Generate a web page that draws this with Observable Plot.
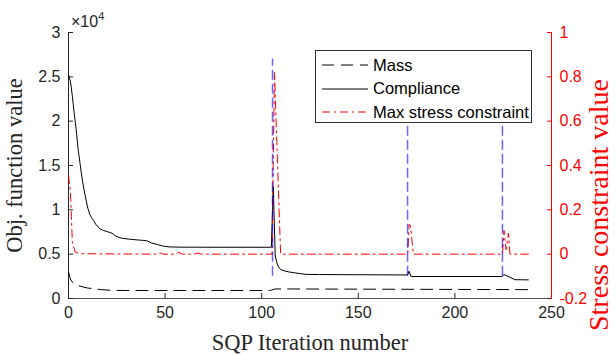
<!DOCTYPE html>
<html><head><meta charset="utf-8">
<script src="https://cdn.jsdelivr.net/npm/d3@7"></script>
<script src="https://cdn.jsdelivr.net/npm/@observablehq/plot@0.6"></script>
<style>
body{margin:0;background:#fff}
#wrap{position:relative;width:616px;height:354px;overflow:hidden;font-family:"Liberation Sans",Arial,sans-serif}
#wrap svg [aria-label$="axis label"]{font-family:"Liberation Serif","Times New Roman",serif;font-size:22.5px}
#legend{position:absolute;left:315px;top:50px;width:215px;height:71px;border:1px solid #333;background:#fff;font-size:16.5px;color:#000}
#legend .row{position:absolute;left:0;height:20px;display:flex;align-items:center}
#legend svg{width:46px;height:10px;margin-left:6px;margin-right:5px}
#exp{position:absolute;left:71px;top:11px;font-size:16px;color:#262626}
#exp sup{font-size:11px;position:relative;top:-1px}
#rlabel{position:absolute;left:599px;top:205px;writing-mode:vertical-rl;transform:translate(-50%,-50%) rotate(180deg);white-space:nowrap;font-family:"Liberation Serif","Times New Roman",serif;font-size:28px;line-height:0.8;color:red}
</style></head>
<body><div id="wrap"></div>
<script>
// ---- data ----
const complianceX = [0,1,2,3,4,5,6,7,8,9,10,11,12,13,14,16,18,20,22,23,24,26,28,31,35,39,41,43,46,49,52,58,80,105,106,107,108,109,110,112,114,117,120,123,130,140,150,160,170,175.5,176.3,177.3,200,224.5,225.3,227.7,231,238];
const complianceY = [25200,24500,22800,20800,19000,16800,15200,13600,12300,11200,10200,9500,9100,8800,8400,7900,7680,7550,7400,7300,7100,6900,6780,6700,6620,6550,6480,6250,6100,5900,5820,5790,5780,5780,12600,4800,3900,3450,3250,3100,3000,2900,2800,2720,2700,2690,2680,2670,2660,2650,3080,2480,2480,2480,2700,2480,2120,2100];
const massX = [0,1,2,3,4,6,8,10,13,17,22,30,104,105,107,238];
const massY = [3000,2200,1850,1650,1550,1400,1270,1180,1100,1000,920,900,900,950,1080,1000];
const stressX = [0,1,1.5,2,3.5,6,45,47.6,49,55,57,59,65,66.8,69,105.4,106.6,109.8,175.6,176.3,177,178.5,224.6,225.4,226.5,227.7,228.5,238];
const stressY = [0.355,0.28,0.17,0.05,0.01,0.002,0,0.005,0,0,0.008,0,0,0.005,0,0,0.82,0,0,0.135,0.13,0,0,0.107,0.02,0.095,0,0];
const restartX = [105.6, 175.5, 224.6];
const restartRange = [-0.1, 0.88];            // in stress units
const xTicks = [0,50,100,150,200,250];
const leftTicks = [0,5000,10000,15000,20000,25000,30000];
const rightTicks = [-0.2,0,0.2,0.4,0.6,0.8,1];
const leftDomain = [0, 30000];
const rightDomain = [-0.2, 1];
const rightLabel = "Stress constraint value";

// map right-axis values onto the left scale
const toL = r => (r - rightDomain[0]) / (rightDomain[1] - rightDomain[0]) * (leftDomain[1] - leftDomain[0]) + leftDomain[0];
const fromL = v => (v - leftDomain[0]) / (leftDomain[1] - leftDomain[0]) * (rightDomain[1] - rightDomain[0]) + rightDomain[0];

const compliance = complianceX.map((x, i) => ({x, y: complianceY[i]}));
const mass = massX.map((x, i) => ({x, y: massY[i]}));
const stress = stressX.map((x, i) => ({x, y: toL(stressY[i])}));

const chart = Plot.plot({
  width: 616, height: 354,
  marginLeft: 68, marginRight: 65, marginTop: 32, marginBottom: 56,
  style: {fontFamily: '"Liberation Sans", Arial, sans-serif', fontSize: "16px", background: "#fff"},
  x: {domain: [0, 250]},
  y: {domain: leftDomain},
  marks: [
    Plot.axisX(xTicks, {tickSize: -5, tickPadding: 13, color: "#262626", fontSize: 16, label: "SQP Iteration number", labelAnchor: "center", labelArrow: "none", labelOffset: 51}),
    Plot.axisY(leftTicks, {anchor: "left", tickSize: -5, tickPadding: 13, color: "#262626", fontSize: 16, tickFormat: d => String(d / 1e4), label: "Obj. function value", labelAnchor: "center", labelArrow: "none", labelOffset: 62}),
    Plot.axisY(rightTicks.map(toL), {anchor: "right", tickSize: -5, tickPadding: 13, color: "red", fontSize: 16, tickFormat: d => String(+fromL(d).toFixed(1)), label: null}),
    Plot.ruleY([leftDomain[0]], {stroke: "#262626", strokeOpacity: 0.8}),
    Plot.ruleX([0], {stroke: "#262626"}),
    Plot.ruleX([250], {stroke: "red"}),
    Plot.line(mass, {x: "x", y: "y", stroke: "black", strokeWidth: 1, strokeDasharray: "12,7"}),
    Plot.line(compliance, {x: "x", y: "y", stroke: "black", strokeWidth: 1}),
    Plot.line(stress, {x: "x", y: "y", stroke: "red", strokeWidth: 1, strokeDasharray: "8,4,2,4"}),
    Plot.ruleX(restartX, {y1: toL(restartRange[0]), y2: toL(restartRange[1]), stroke: "blue", strokeOpacity: 0.6, strokeWidth: 1.5, strokeDasharray: "10,4"})
  ]
});
const wrap = document.getElementById("wrap");
wrap.appendChild(chart);

const exp = document.createElement("div");
exp.id = "exp";
exp.innerHTML = "×10<sup>4</sup>";
wrap.appendChild(exp);

const rl = document.createElement("div");
rl.id = "rlabel";
rl.textContent = rightLabel;
wrap.appendChild(rl);

const legendItems = [
  {label: "Mass", stroke: "black", dash: "12,7"},
  {label: "Compliance", stroke: "black", dash: null},
  {label: "Max stress constraint", stroke: "red", dash: "8,4,2,4"}
];
const legend = document.createElement("div");
legend.id = "legend";
legendItems.forEach((it, i) => {
  const row = document.createElement("div");
  row.className = "row";
  row.style.top = (4 + i * 23.5) + "px";
  row.innerHTML = `<svg viewBox="0 0 46 10"><line x1="0" x2="46" y1="5" y2="5" stroke="${it.stroke}" stroke-width="1" ${it.dash ? `stroke-dasharray="${it.dash}"` : ""}/></svg><span>${it.label}</span>`;
  legend.appendChild(row);
});
wrap.appendChild(legend);
</script>
</body></html>
